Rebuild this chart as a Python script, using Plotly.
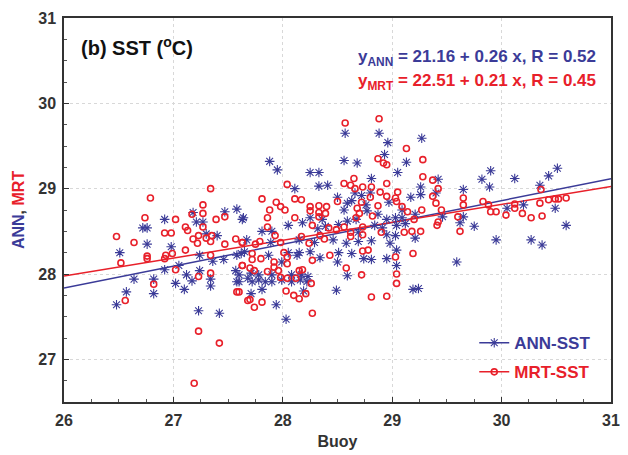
import plotly.graph_objects as go

# ---------------- data ----------------
ann_x = [26.92,27.18,27.21,27.47,27.58,27.63,26.76,26.72,27.27,27.30,27.40,26.76,26.98,26.51,27.24,27.58,27.65,
         26.64,26.57,26.48,26.82,26.82,26.92,27.02,27.10,27.12,27.17,27.24,27.34,27.34,27.23,27.42,27.57,27.58,27.36,27.46,27.05,
         28.57,28.88,28.96,29.27,27.88,27.95,28.56,28.68,28.93,29.13,29.05,28.25,28.33,28.11,28.33,28.41,28.81,29.26,29.26,
         28.50,28.66,28.72,28.80,28.59,28.63,28.76,28.97,29.17,29.09,28.56,27.64,28.25,28.36,28.67,28.77,28.87,28.95,29.03,
         29.09,29.21,28.59,28.18,28.32,28.39,28.51,28.84,28.91,29.04,29.12,27.81,27.90,28.05,28.69,28.95,29.03,27.67,27.89,
         28.15,28.29,28.46,28.58,28.69,28.81,28.98,29.21,
         27.87,27.99,28.05,28.15,28.25,28.34,28.50,28.51,28.63,28.74,28.81,28.95,29.04,29.04,28.59,28.49,29.19,28.19,27.71,
         27.81,27.94,28.03,27.72,27.78,27.84,27.90,27.99,28.08,28.16,28.22,27.68,27.71,27.78,27.90,28.08,28.17,28.23,27.60,
         27.60,28.13,27.62,
         29.42,29.40,29.46,29.65,29.65,29.62,29.75,29.82,29.90,29.89,30.12,30.05,30.20,30.35,30.43,30.51,30.49,30.59,29.95,
         30.27,30.37,29.59,29.24]
ann_y = [28.64,28.72,28.61,28.73,28.76,28.64,28.54,28.54,28.61,28.47,28.45,28.35,28.32,28.25,28.22,28.22,28.26,
         27.94,27.79,27.64,27.77,27.94,28.05,27.89,27.82,27.99,27.92,28.04,27.94,27.86,27.57,27.54,28.04,27.91,28.15,28.17,28.10,
         29.65,29.65,29.54,29.59,29.32,29.22,29.33,29.30,29.40,29.31,29.19,29.19,29.19,29.00,29.03,29.04,29.12,29.02,28.93,
         28.90,28.95,28.92,28.95,28.83,28.86,28.81,28.84,28.90,28.75,28.75,28.66,28.66,28.64,28.64,28.74,28.70,28.64,28.66,
         28.66,28.70,28.62,28.60,28.53,28.56,28.58,28.57,28.54,28.57,28.59,28.50,28.50,28.57,28.49,28.46,28.45,28.40,28.37,
         28.40,28.37,28.40,28.36,28.38,28.39,28.36,28.42,
         28.22,28.14,28.25,28.25,28.26,28.19,28.14,28.25,28.24,28.18,28.17,28.18,28.10,28.28,27.98,27.81,27.82,27.80,27.77,
         27.82,27.64,27.47,27.91,27.93,27.91,27.91,27.93,27.91,27.93,27.91,27.95,28.01,27.99,27.99,27.99,27.99,27.97,27.99,
         27.91,28.22,28.24,
         29.11,28.95,28.67,28.99,28.67,28.60,28.56,29.11,29.21,29.02,29.12,28.77,28.81,29.04,29.15,29.24,28.77,28.57,28.40,
         28.40,28.34,28.14,27.83]

mrt_x = [27.34,26.79,27.27,26.74,27.02,27.27,27.39,27.47,27.11,27.13,27.27,26.92,26.98,26.48,26.64,27.18,27.23,27.30,
         27.35,27.22,27.34,27.47,27.57,27.63,27.11,26.99,26.76,26.93,27.34,27.17,
         26.52,26.76,26.92,27.02,27.23,27.34,27.63,27.58,26.82,26.56,27.23,27.42,27.19,27.68,
         28.57,28.88,29.13,29.28,29.28,28.87,28.92,28.95,28.04,28.56,28.65,28.62,28.66,28.73,28.81,28.95,29.05,28.89,28.80,
         27.81,28.11,28.17,27.94,27.98,27.88,28.02,28.25,28.25,28.33,28.40,28.33,28.39,28.33,28.50,28.68,28.70,28.82,28.67,
         28.72,28.87,28.95,29.03,29.04,29.09,29.14,29.20,29.27,28.11,27.86,27.86,28.27,28.42,28.49,28.56,28.62,28.73,28.73,
         28.62,28.90,29.11,29.18,29.26,28.17,27.93,27.98,27.79,27.63,27.75,28.34,28.38,28.24,
         27.72,27.72,27.63,27.70,27.74,27.80,27.86,27.92,27.92,27.96,27.98,28.01,28.04,28.04,28.04,28.12,28.15,28.18,28.27,
         28.26,28.03,28.10,28.15,28.21,27.70,27.81,27.74,28.27,27.60,28.43,28.58,28.72,28.81,28.95,29.04,29.04,29.03,29.19,
         28.73,28.78,
         29.37,29.42,29.37,29.40,29.45,29.42,29.41,29.65,29.65,29.60,29.62,29.83,29.88,29.90,29.95,30.04,30.12,30.12,30.19,
         30.27,30.35,30.37,30.36,30.43,30.49,30.52,30.59]
mrt_y = [29.00,28.89,28.81,28.66,28.64,28.71,28.64,28.67,28.55,28.51,28.55,28.48,28.48,28.44,28.37,28.41,28.45,28.42,
         28.45,28.36,28.38,28.35,28.41,28.37,28.28,28.24,28.21,28.22,28.22,28.70,
         28.13,28.18,28.18,28.05,27.97,28.01,28.10,27.79,27.88,27.69,27.33,27.19,26.72,27.69,
         29.77,29.82,29.47,29.34,29.14,29.35,29.30,29.28,29.05,29.06,29.12,29.04,29.00,29.02,29.02,29.06,28.96,28.96,28.90,
         28.88,28.88,28.87,28.84,28.79,28.75,28.75,28.79,28.74,28.80,28.79,28.72,28.71,28.67,28.85,28.77,28.71,28.68,28.66,
         28.84,28.80,28.91,28.89,28.85,28.79,28.73,28.64,28.75,28.66,28.66,28.55,28.57,28.54,28.52,28.55,28.49,28.55,28.46,
         28.44,28.49,28.49,28.50,28.50,28.44,28.45,28.37,28.38,28.37,28.35,28.45,28.41,28.36,
         28.24,28.17,28.10,28.07,28.04,28.18,28.03,28.14,28.08,28.04,27.96,28.25,28.20,28.12,27.95,27.95,28.04,28.05,28.16,
         27.89,27.80,27.75,27.71,27.77,27.70,27.67,27.61,27.54,27.79,28.22,28.07,27.99,27.73,27.74,28.00,27.89,28.20,28.24,
         28.27,28.28,
         29.10,29.00,28.91,28.83,28.75,28.61,28.57,28.89,28.81,28.67,28.50,28.85,28.81,28.73,28.73,28.69,28.82,28.77,28.71,
         28.66,28.83,28.68,28.99,28.87,28.88,28.88,28.89]

# regression equations printed on the chart (intercept, slope, R)
ann_eq = (21.16, 0.26, 0.52)
mrt_eq = (22.51, 0.21, 0.45)
# fitted lines as they appear in the picture (intercept, slope)
ann_line = (21.18, 0.256)
mrt_line = (22.53, 0.2095)
x_range = [26, 31]
y_range = [26.5, 31]
tick_vals = [26, 27, 28, 29, 30, 31]

BLUE = "#3b3b98"
RED = "#e8202a"
FONT = "Liberation Sans, Arial, sans-serif"

fig = go.Figure()

# regression lines
for (a, b), col in [(ann_line, BLUE), (mrt_line, RED)]:
    fig.add_trace(go.Scatter(x=x_range, y=[a + b * x for x in x_range], mode="lines",
                             line=dict(color=col, width=1.5), showlegend=False, hoverinfo="skip"))

fig.add_trace(go.Scatter(x=ann_x, y=ann_y, mode="markers", showlegend=False,
                         marker=dict(symbol="asterisk-open", size=8, color=BLUE,
                                     line=dict(color=BLUE, width=1.1))))
fig.add_trace(go.Scatter(x=mrt_x, y=mrt_y, mode="markers", showlegend=False,
                         marker=dict(symbol="circle-open", size=6, color=RED,
                                     line=dict(color=RED, width=1.6))))

# legend entries
fig.add_trace(go.Scatter(x=[None], y=[None], mode="lines+markers", legendgroup="a",
                         name=f"<span style='color:{BLUE}'><b>ANN-SST</b></span>",
                         line=dict(color=BLUE, width=1.5),
                         marker=dict(symbol="asterisk-open", size=8, line=dict(color=BLUE, width=1.1))))
fig.add_trace(go.Scatter(x=[None], y=[None], mode="lines+markers", legendgroup="b",
                         name=f"<span style='color:{RED}'><b>MRT-SST</b></span>",
                         line=dict(color=RED, width=1.5),
                         marker=dict(symbol="circle-open", size=6, color=RED, line=dict(color=RED, width=1.6))))

axis_common = dict(showline=True, linecolor="#333", linewidth=1.5, mirror=True,
                   ticks="inside", ticklen=5, tickcolor="#333", ticklabelstandoff=3,
                   showgrid=True, gridcolor="#d8d8d8", griddash="dot", gridwidth=1,
                   zeroline=False, automargin=False, tickfont=dict(family=FONT, size=16, color="#333"),
                   minor=dict(ticks="inside", ticklen=3, tickcolor="#555", dtick=0.25, showgrid=False))

fig.update_xaxes(range=x_range, tickvals=tick_vals, ticktext=[f"<b>{v}</b>" for v in tick_vals],
                 title=dict(text="<b>Buoy</b>", font=dict(family=FONT, size=16, color="#333"), standoff=8),
                 **axis_common)
fig.update_yaxes(range=y_range, tickvals=tick_vals[1:], ticktext=[f"<b>{v}</b>" for v in tick_vals[1:]],
                 **axis_common)

fig.add_annotation(xref="paper", yref="paper", x=-0.084, y=0.5, textangle=-90, showarrow=False,
                   xanchor="center", yanchor="middle",
                   text=f"<b><span style='color:{BLUE}'>ANN</span><span style='color:#333'>, </span><span style='color:{RED}'>MRT</span></b>",
                   font=dict(family=FONT, size=16))
fig.add_annotation(xref="paper", yref="paper", x=0.028, y=0.925, xanchor="left", yanchor="middle", showarrow=False,
                   text="<b>(b) SST (<sup>o</sup>C)</b>", font=dict(family=FONT, size=20, color="#111"))
fig.add_annotation(xref="paper", yref="paper", x=0.976, y=0.896, xanchor="right", yanchor="middle", showarrow=False,
                   text=f"<b>y<sub>ANN</sub> = {ann_eq[0]:.2f} + {ann_eq[1]:.2f} x, R = {ann_eq[2]:.2f}</b>",
                   font=dict(family=FONT, size=17, color=BLUE))
fig.add_annotation(xref="paper", yref="paper", x=0.976, y=0.833, xanchor="right", yanchor="middle", showarrow=False,
                   text=f"<b>y<sub>MRT</sub> = {mrt_eq[0]:.2f} + {mrt_eq[1]:.2f} x, R = {mrt_eq[2]:.2f}</b>",
                   font=dict(family=FONT, size=17, color=RED))

# page body has an 8px margin, so the figure is shrunk to keep the plot frame in place
fig.update_layout(width=620, height=447, margin=dict(l=56, r=17, t=10, b=53),
                  paper_bgcolor="white", plot_bgcolor="white",
                  legend=dict(x=0.75, y=0.2, xanchor="left", yanchor="top", bgcolor="rgba(0,0,0,0)",
                              font=dict(family=FONT, size=17), itemwidth=30, tracegroupgap=4),
                  font=dict(family=FONT))

fig.write_html("out.html")
